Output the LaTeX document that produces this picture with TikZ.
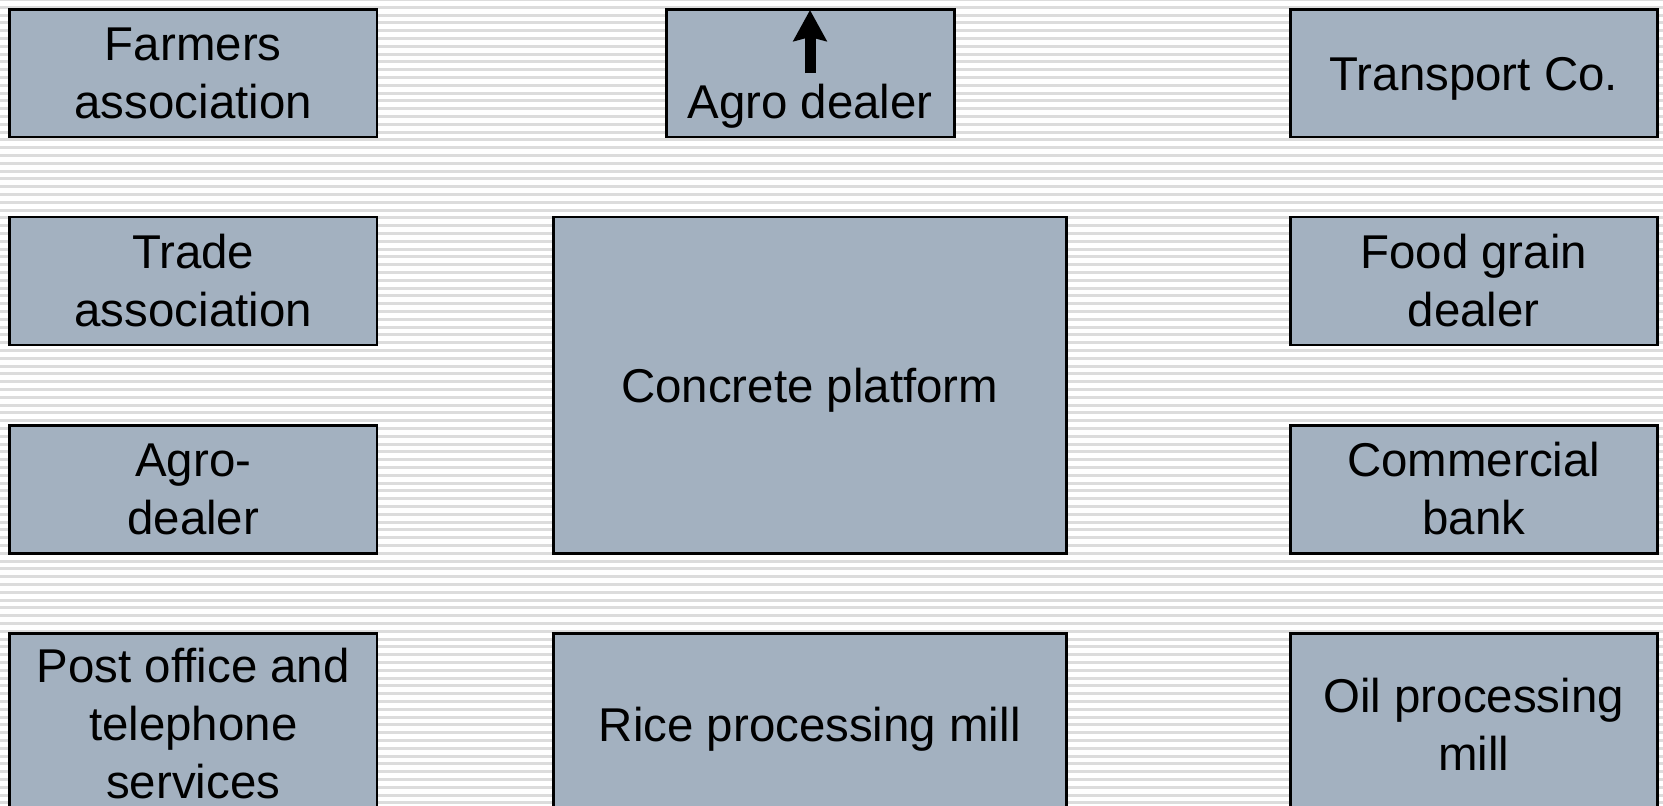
\documentclass[tikz,border=0pt]{standalone}
\usepackage{fontspec}
\setmainfont{Liberation Sans}
\usepackage{xcolor}
\usepackage{tikz}
\usetikzlibrary{arrows.meta}

\definecolor{BoxFill}{HTML}{A3B1C0}
\definecolor{StripeGray}{HTML}{DCDCDC}

\tikzset{
  box/.style={fill=BoxFill,draw=black,line width=1.7pt},
  label/.style={align=center,font=\fontsize{27}{33}\selectfont},
  onelabel/.style={label,yshift=-3pt},
}

\begin{document}
\begin{tikzpicture}[x=0.02cm,y=-0.02cm]
  \clip (0,0) rectangle (1663,805);
  \useasboundingbox (0,0) rectangle (1663,805);

  % Striped background
  \foreach \i in {-1,...,103}
    \fill[StripeGray] (0,{5.7+7.8*\i}) rectangle (1663,{8.7+7.8*\i});

  % Farmers association
  \draw[box] (9.5,9.5) rectangle (377,137)
    node[midway,label] (farmers) {Farmers\\association};

  % Agro dealer (top)
  \draw[box] (666,9.5) rectangle (954,137);
  \node[label,anchor=base] (agrotop) at (810,118) {Agro dealer};
  \coordinate (arrowbot) at (810,73);
  \coordinate (arrowtop) at (810,10);
  \draw[line width=0.22cm,-{Stealth[width=0.66cm,length=0.62cm,inset=0.08cm]}]
    (arrowbot) -- (arrowtop);

  % Transport Co.
  \draw[box] (1290,9.5) rectangle (1657.5,137)
    node[midway,onelabel] (transport) {Transport Co.};

  % Trade association
  \draw[box] (9.5,217) rectangle (377,345)
    node[midway,label] (trade) {Trade\\association};

  % Concrete platform
  \draw[box] (553.5,217) rectangle (1066,553)
    node[midway,onelabel] (platform) {Concrete platform};

  % Food grain dealer
  \draw[box] (1290,217) rectangle (1657.5,345)
    node[midway,label] (foodgrain) {Food grain\\dealer};

  % Agro-dealer (left)
  \draw[box] (9.5,425) rectangle (377,553)
    node[midway,label] (agroleft) {Agro-\\dealer};

  % Commercial bank
  \draw[box] (1290,425) rectangle (1657.5,553)
    node[midway,label] (bank) {Commercial\\bank};

  % Post office and telephone services
  \draw[box] (9.5,633) rectangle (377,815)
    node[midway,label] (postoffice) {Post office and\\telephone\\services};

  % Rice processing mill
  \draw[box] (553.5,633) rectangle (1066,815)
    node[midway,onelabel] (ricemill) {Rice processing mill};

  % Oil processing mill
  \draw[box] (1290,633) rectangle (1657.5,815)
    node[midway,label] (oilmill) {Oil processing\\mill};
\end{tikzpicture}
\end{document}
